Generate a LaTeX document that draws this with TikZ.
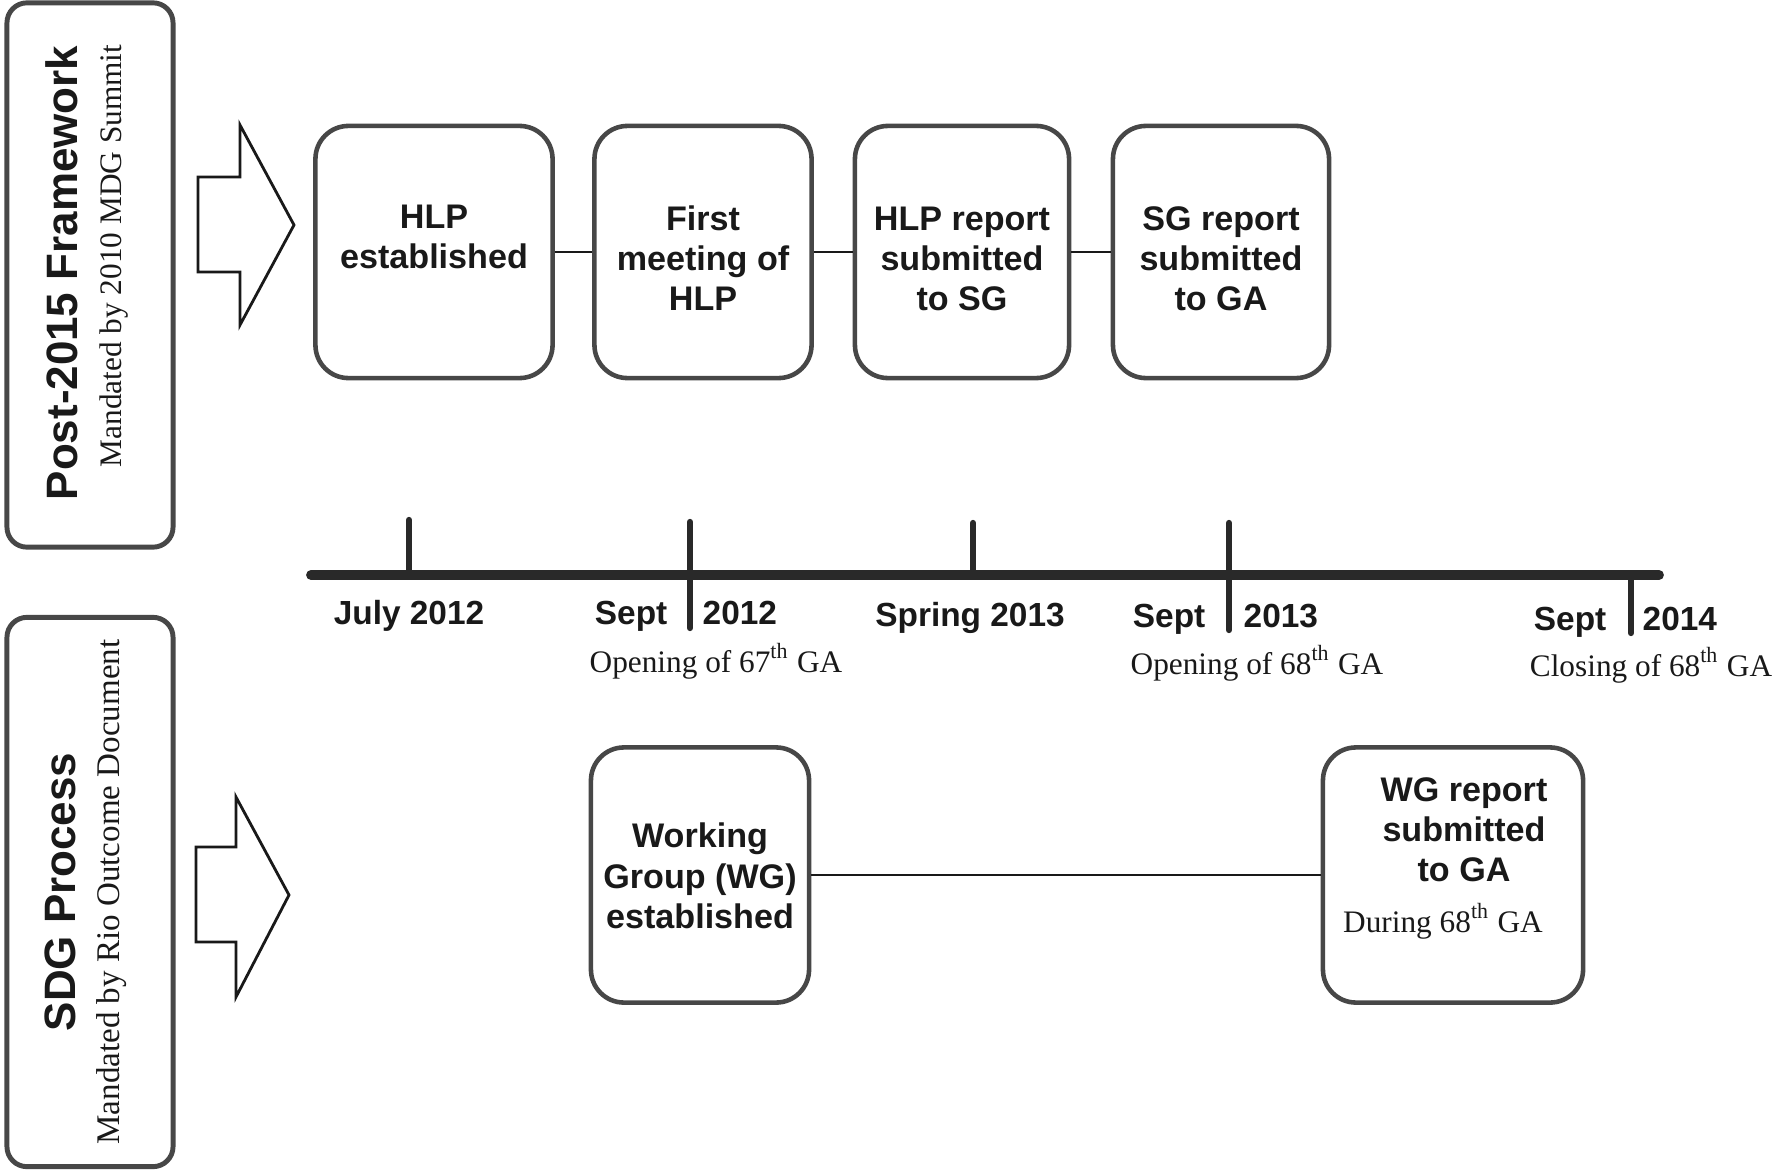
\documentclass[tikz,border=0pt]{standalone}
\usepackage{fontspec}
\setmainfont{Liberation Serif}
\setsansfont{Liberation Sans}
\usepackage{tikz}
\definecolor{framecol}{gray}{0.28}
\definecolor{inkcol}{gray}{0.1}
\definecolor{axiscol}{gray}{0.16}
\newcommand{\evtgap}{\rule{0pt}{10.4pt}}
\tikzset{
  sideframe/.style={draw=framecol,line width=1.4pt,rounded corners=0.2cm,minimum width=1.66cm},
  ttl/.style={font=\sffamily\bfseries\fontsize{12.5}{14}\selectfont,text=inkcol,inner sep=0pt,rotate=90},
  subttl/.style={font=\rmfamily\fontsize{9.4}{11}\selectfont,text=inkcol,inner sep=0pt,rotate=90},
  evt/.style={draw=framecol,line width=1.3pt,rounded corners=0.33cm,minimum height=2.52cm,align=center,
    font=\sffamily\bfseries\fontsize{9.7}{11.4}\selectfont,text=inkcol,inner sep=0pt},
  evttxt/.style={align=center,font=\sffamily\bfseries\fontsize{9.7}{11.4}\selectfont,text=inkcol,inner sep=0pt},
  datelab/.style={font=\sffamily\bfseries\fontsize{9.5}{11}\selectfont,text=inkcol,inner sep=0pt},
  gnote/.style={font=\rmfamily\fontsize{8.9}{10}\selectfont,text=inkcol,inner sep=0pt},
  conn/.style={draw=inkcol,line width=0.7pt},
  timeaxis/.style={draw=axiscol,line width=2.8pt,line cap=round},
  tck/.style={draw=axiscol,line width=1.8pt,line cap=round},
  bigarrow/.style={draw=inkcol,line width=0.8pt,line join=miter,fill=white},
}

\begin{document}
\begin{tikzpicture}[x=0.01cm,y=-0.01cm]
  \useasboundingbox (0,0) rectangle (1788,1173);
  \fill[white] (0,0) rectangle (1788,1173);
  % side frames
  \node[sideframe,minimum height=5.44cm] (pfw) at (90,275) {};
  \node[ttl] (pfwttl) at (62,273) {Post-2015 Framework};
  \node[subttl,font=\rmfamily\fontsize{8.9}{10}\selectfont] (pfwsub) at (114,256) {Mandated by 2010 MDG Summit};
  \node[sideframe,minimum height=5.49cm] (sdg) at (90,892) {};
  \node[ttl] (sdgttl) at (60,892) {SDG Process};
  \node[subttl] (sdgsub) at (112,892) {Mandated by Rio Outcome Document};
  % block arrows
  \draw[bigarrow] (198,177) -- (240,177) -- (240,125) -- (294,225) -- (240,325) -- (240,272) -- (198,272) -- cycle;
  \draw[bigarrow] (196,847) -- (236,847) -- (236,797) -- (289,895) -- (236,997) -- (236,942) -- (196,942) -- cycle;
  % post-2015 events
  \node[evt,minimum width=2.37cm] (hlp) at (434,252) {\rule{0pt}{12.7pt}HLP\\established\\\strut};
  \node[evt,minimum width=2.17cm] (meet) at (703,252) {\evtgap First\\meeting of\\HLP};
  \node[evt,minimum width=2.14cm] (hlprep) at (962,252) {\evtgap HLP report\\submitted\\to SG};
  \node[evt,minimum width=2.16cm] (sgrep) at (1221,252) {\evtgap SG report\\submitted\\to GA};
  \draw[conn] (hlp) -- (meet);
  \draw[conn] (meet) -- (hlprep);
  \draw[conn] (hlprep) -- (sgrep);
  % timeline
  \coordinate (ax0) at (311,575);
  \coordinate (ax1) at (1659,575);
  \draw[timeaxis] (ax0) -- (ax1);
  \coordinate (tjul) at (409,575);
  \coordinate (tsep12) at (690,575);
  \coordinate (tspr) at (973,575);
  \coordinate (tsep13) at (1229,575);
  \coordinate (tsep14) at (1631,575);
  \draw[tck] (tjul) -- ++(0,-55);
  \draw[tck] (tsep12) ++(0,-53) -- ++(0,106);
  \draw[tck] (tspr) -- ++(0,-52);
  \draw[tck] (tsep13) ++(0,-52) -- ++(0,107);
  \draw[tck] (tsep14) -- ++(0,58);
  \node[datelab,anchor=base] (djul) at (409,624) {July 2012};
  \node[datelab,anchor=base east] (dsep12a) at (668,624) {Sept};
  \node[datelab,anchor=base west] (dsep12b) at (702,624) {2012};
  \node[datelab,anchor=base] (dspr) at (970,626) {Spring 2013};
  \node[datelab,anchor=base east] (dsep13a) at (1206,627) {Sept};
  \node[datelab,anchor=base west] (dsep13b) at (1243,627) {2013};
  \node[datelab,anchor=base east] (dsep14a) at (1607,630) {Sept};
  \node[datelab,anchor=base west] (dsep14b) at (1642,630) {2014};
  \node[gnote,anchor=base] (nop67) at (716,672) {Opening of 67\textsuperscript{th} GA};
  \node[gnote,anchor=base] (nop68) at (1257,674) {Opening of 68\textsuperscript{th} GA};
  \node[gnote,anchor=base] (ncl68) at (1651,676) {Closing of 68\textsuperscript{th} GA};
  % SDG events
  \node[evt,minimum width=2.18cm,minimum height=2.55cm] (wg) at (700,875) {\rule{0pt}{7.5pt}Working\\Group (WG)\\established};
  \node[evt,minimum width=2.60cm,minimum height=2.55cm] (wgrep) at (1453,875) {};
  \node[evttxt,anchor=north] (wgreptxt) at (1464,777) {WG report\\submitted\\to GA};
  \node[gnote,anchor=base] (wgdur) at (1443,932) {During 68\textsuperscript{th} GA};
  \draw[conn] (wg) -- (wgrep);
\end{tikzpicture}
\end{document}
